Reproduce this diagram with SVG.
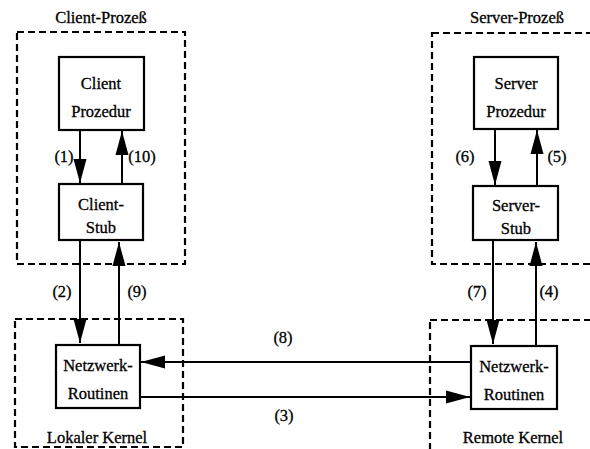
<svg xmlns="http://www.w3.org/2000/svg" width="590" height="449" viewBox="0 0 590 449">
<style>
  text { font-family: "Liberation Serif", "DejaVu Serif", "Times New Roman", serif; font-size: 16.5px; fill: #000; text-anchor: middle; stroke: #000; stroke-width: 0.3; }
  .box { fill: #fff; stroke: #000; stroke-width: 2.2; }
  .dash { fill: none; stroke: #000; stroke-width: 2.2; stroke-dasharray: 7 4; }
  .conn { fill: none; stroke: #000; stroke-width: 2; marker-end: url(#ah); }
</style>
<defs>
  <marker id="ah" markerUnits="userSpaceOnUse" markerWidth="26" markerHeight="14" refX="24" refY="7" orient="auto">
    <path d="M0,0.5 L24,7 L0,13.5 z" fill="#000"/>
  </marker>
</defs>
<rect width="590" height="449" fill="#fff"/>

<g id="client-prozess">
  <rect class="dash" x="17" y="32" width="168" height="232"/>
  <text x="101" y="23" font-family="Liberation Serif, DejaVu Serif, serif">Client-Prozeß</text>
</g>
<g id="server-prozess">
  <rect class="dash" x="432" y="33" width="200" height="231"/>
  <text x="517" y="23">Server-Prozeß</text>
</g>
<g id="lokaler-kernel">
  <rect class="dash" x="15" y="319" width="168" height="128"/>
  <text x="97" y="443">Lokaler Kernel</text>
</g>
<g id="remote-kernel">
  <rect class="dash" x="430" y="320" width="200" height="140"/>
  <text x="513" y="443">Remote Kernel</text>
</g>

<g id="client-prozedur">
  <rect class="box" x="59" y="57" width="85" height="73"/>
  <text x="101" y="89">Client</text>
  <text x="101" y="117">Prozedur</text>
</g>
<g id="client-stub">
  <rect class="box" x="59" y="184" width="84" height="56"/>
  <text x="101" y="210">Client-</text>
  <text x="101" y="233">Stub</text>
</g>
<g id="server-prozedur">
  <rect class="box" x="474" y="57" width="84" height="72"/>
  <text x="516" y="89">Server</text>
  <text x="516" y="117">Prozedur</text>
</g>
<g id="server-stub">
  <rect class="box" x="473" y="186" width="85" height="54"/>
  <text x="516" y="211">Server-</text>
  <text x="516" y="234">Stub</text>
</g>
<g id="netzwerk-lokal">
  <rect class="box" x="56" y="345" width="84" height="63"/>
  <text x="98" y="371">Netzwerk-</text>
  <text x="98" y="399">Routinen</text>
</g>
<g id="netzwerk-remote">
  <rect class="box" x="471" y="346" width="86" height="63"/>
  <text x="514" y="372">Netzwerk-</text>
  <text x="514" y="400">Routinen</text>
</g>

<g id="connectors">
  <line class="conn" x1="80" y1="130" x2="80" y2="183"/>
  <line class="conn" x1="122" y1="184" x2="122" y2="131"/>
  <line class="conn" x1="80" y1="240" x2="80" y2="343"/>
  <line class="conn" x1="119" y1="345" x2="119" y2="242"/>
  <line class="conn" x1="495" y1="129" x2="495" y2="185"/>
  <line class="conn" x1="537" y1="186" x2="537" y2="130"/>
  <line class="conn" x1="493" y1="240" x2="493" y2="344"/>
  <line class="conn" x1="536" y1="346" x2="536" y2="242"/>
  <line class="conn" x1="471" y1="362" x2="141" y2="362"/>
  <line class="conn" x1="140" y1="397" x2="470" y2="397"/>
  <text x="64" y="162">(1)</text>
  <text x="142" y="162">(10)</text>
  <text x="465" y="162">(6)</text>
  <text x="557" y="162">(5)</text>
  <text x="62" y="297">(2)</text>
  <text x="137" y="297">(9)</text>
  <text x="477" y="297">(7)</text>
  <text x="549" y="297">(4)</text>
  <text x="283" y="343">(8)</text>
  <text x="284" y="421">(3)</text>
</g>
</svg>
